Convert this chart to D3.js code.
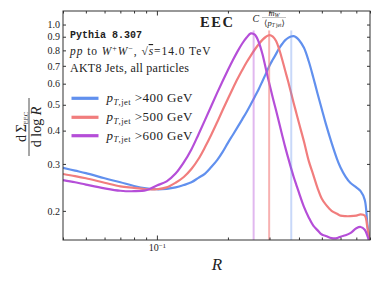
<!DOCTYPE html>
<html><head><meta charset="utf-8">
<script src="https://cdn.jsdelivr.net/npm/d3@7"></script>
<style>
body{margin:0;background:#fff}
svg{display:block}
text{font-family:"Liberation Serif","DejaVu Serif",serif;fill:#222}
</style>
</head><body>
<script>
// ---- data ----
const rValues = [0.04,0.045,0.05,0.06,0.07,0.08,0.09,0.1,0.11,0.12,0.13,0.14,0.15,0.16,0.17,0.18,0.19,0.2,0.21,0.22,0.23,0.24,0.25,0.26,0.27,0.28,0.29,0.3,0.31,0.32,0.33,0.34,0.35,0.36,0.37,0.38,0.39,0.4,0.42,0.44,0.46,0.48,0.5,0.52,0.55,0.58,0.6,0.63,0.66,0.7,0.73,0.76,0.78,0.8];
const eec400 = [0.290,0.283,0.277,0.265,0.256,0.248,0.243,0.241,0.242,0.245,0.250,0.256,0.266,0.276,0.292,0.310,0.333,0.360,0.386,0.413,0.441,0.470,0.502,0.536,0.572,0.613,0.656,0.701,0.739,0.776,0.816,0.847,0.874,0.891,0.902,0.905,0.894,0.875,0.818,0.728,0.633,0.549,0.481,0.424,0.360,0.313,0.291,0.269,0.255,0.245,0.237,0.220,0.178,0.150];
const eec500 = [0.275,0.270,0.265,0.255,0.247,0.244,0.241,0.241,0.245,0.255,0.268,0.287,0.313,0.347,0.386,0.430,0.478,0.527,0.577,0.627,0.675,0.722,0.765,0.806,0.843,0.876,0.900,0.913,0.901,0.867,0.806,0.736,0.669,0.611,0.556,0.507,0.465,0.427,0.364,0.308,0.273,0.243,0.222,0.211,0.200,0.195,0.192,0.191,0.191,0.192,0.194,0.192,0.173,0.150];
const eec600 = [0.261,0.256,0.251,0.243,0.238,0.237,0.239,0.249,0.258,0.276,0.304,0.340,0.387,0.439,0.495,0.554,0.614,0.675,0.736,0.795,0.849,0.894,0.926,0.916,0.860,0.775,0.678,0.597,0.530,0.476,0.426,0.383,0.346,0.316,0.290,0.268,0.250,0.234,0.207,0.189,0.176,0.169,0.163,0.161,0.158,0.158,0.160,0.162,0.165,0.172,0.174,0.170,0.161,0.150];
const ptCuts = ["400","500","600"];
const peakR = [0.371, 0.299, 0.257];       // C m_W / <pT,jet>
const peakLineTop = 0.95;
const yTicks = [0.2,0.3,0.4,0.5,0.6,0.7,0.8,0.9,1.0];
const xMajorTicks = [0.1];
const xMinorTicks = [0.04,0.05,0.06,0.07,0.08,0.09,0.2,0.3,0.4,0.5,0.6,0.7,0.8];
const colors = ["#6190ee","#f17d7d","#b54ed8"];
const vlineOpacity = [0.35,0.6,0.4];

// ---- chart ----
const W=381,H=285;
const L=63,R=370,T=11,B=240;
const svg = d3.select("body").append("svg").attr("width",W).attr("height",H);
const x = d3.scaleLog().domain([0.04,0.8]).range([L,R]);
const y = d3.scaleLog().domain([0.1555,1.124]).range([B,T]);

svg.append("defs").append("clipPath").attr("id","clip")
  .append("rect").attr("x",L).attr("y",T).attr("width",R-L).attr("height",B-T);

const series = [eec400,eec500,eec600];
const line = d3.line().x(d=>x(d[0])).y(d=>y(d[1])).curve(d3.curveCatmullRom.alpha(0.5));
const plot = svg.append("g").attr("clip-path","url(#clip)");
series.forEach((s,i)=>{
  plot.append("path").datum(rValues.map((r,j)=>[r,s[j]]))
    .attr("d",line).attr("fill","none").attr("stroke",colors[i])
    .attr("stroke-width",2.2).attr("stroke-linejoin","round");
});
peakR.forEach((r,i)=>{
  plot.append("line").attr("x1",x(r)).attr("x2",x(r))
    .attr("y1",y(peakLineTop)).attr("y2",B)
    .attr("stroke",colors[i]).attr("stroke-opacity",vlineOpacity[i]).attr("stroke-width",2);
});

// axes (ticks inward)
function styleAxis(g){ g.select(".domain").remove(); g.selectAll(".tick line").attr("stroke","#333"); g.selectAll("text").attr("font-size",10).attr("fill","#222").style("font-family","'Liberation Serif',serif"); }
svg.append("g").attr("transform",`translate(0,${B})`)
  .call(d3.axisBottom(x).tickValues(xMinorTicks).tickSize(-2.5).tickFormat(""))
  .call(styleAxis);
const xb = svg.append("g").attr("transform",`translate(0,${B})`)
  .call(d3.axisBottom(x).tickValues(xMajorTicks).tickSize(-4.5).tickPadding(4).tickFormat(()=>""))
  .call(styleAxis);
xb.selectAll(".tick text").each(function(){
  const t=d3.select(this);
  t.append("tspan").text("10");
  t.append("tspan").attr("dy","-0.45em").attr("font-size",7).text("\u22121");
});
svg.append("g").attr("transform",`translate(0,${T})`)
  .call(d3.axisTop(x).tickValues(xMinorTicks).tickSize(-2.5).tickFormat("")).call(styleAxis);
svg.append("g").attr("transform",`translate(0,${T})`)
  .call(d3.axisTop(x).tickValues(xMajorTicks).tickSize(-4.5).tickFormat("")).call(styleAxis);
svg.append("g").attr("transform",`translate(${L},0)`)
  .call(d3.axisLeft(y).tickValues(yTicks).tickSize(-3).tickPadding(3).tickFormat(d3.format(".1f")))
  .call(styleAxis);
svg.append("g").attr("transform",`translate(${R},0)`)
  .call(d3.axisRight(y).tickValues(yTicks).tickSize(-3).tickFormat(""))
  .call(styleAxis);
svg.append("rect").attr("x",L).attr("y",T).attr("width",R-L).attr("height",B-T)
  .attr("fill","none").attr("stroke","#333").attr("stroke-width",1);

// annotation texts
svg.append("text").attr("x",70).attr("y",38).attr("font-size",10)
  .style("font-family","'Liberation Mono',monospace").attr("font-weight","bold").attr("fill","#222")
  .attr("textLength",72).attr("lengthAdjust","spacing")
  .text("Pythia 8.307");
const t2 = svg.append("text").attr("x",70).attr("y",55).attr("font-size",11.5)
  .attr("textLength",140.5).attr("lengthAdjust","spacing");
t2.append("tspan").attr("font-style","italic").text("pp");
t2.append("tspan").text(" to ");
t2.append("tspan").attr("font-style","italic").text("W");
t2.append("tspan").attr("dy",-4).attr("font-size",8).text("+");
t2.append("tspan").attr("dy",4).attr("font-style","italic").text("W");
t2.append("tspan").attr("dy",-4).attr("font-size",8).text("\u2212");
t2.append("tspan").attr("dy",4).text(", \u221A");
t2.append("tspan").attr("font-style","italic").attr("text-decoration","overline").text("s");
t2.append("tspan").text("=14.0 TeV");
svg.append("text").attr("x",70).attr("y",72).attr("font-size",12)
  .attr("textLength",119).attr("lengthAdjust","spacing").text("AKT8 Jets, all particles");

// legend
const legY = [98.3,117.3,135.7];
ptCuts.forEach((c,i)=>{
  svg.append("line").attr("x1",71.5).attr("x2",98.5).attr("y1",legY[i]).attr("y2",legY[i])
    .attr("stroke",colors[i]).attr("stroke-width",3.2);
  const t = svg.append("text").attr("x",106.5).attr("y",legY[i]+4).attr("font-size",13)
    .attr("textLength",86).attr("lengthAdjust","spacing");
  t.append("tspan").attr("font-style","italic").text("p");
  t.append("tspan").attr("dy",2.5).attr("font-size",8.5).attr("font-style","italic").text("T");
  t.append("tspan").attr("font-size",8.5).text(",jet");
  t.append("tspan").attr("dy",-2.5).text(" >" + c + " GeV");
});

// EEC title
svg.append("text").attr("x",200).attr("y",26.5).attr("font-size",14.5).attr("font-weight","bold")
  .attr("textLength",33).attr("lengthAdjust","spacing").text("EEC");

// C m_W / <pT,jet>
const g = svg.append("g");
g.append("text").attr("x",252.5).attr("y",21.5).attr("font-size",10).attr("font-style","italic").attr("fill","#888").text("C");
g.append("line").attr("x1",262).attr("x2",286).attr("y1",17.5).attr("y2",17.5).attr("stroke","#999").attr("stroke-width",0.6);
const num = g.append("text").attr("x",274).attr("y",15.5).attr("text-anchor","middle").attr("font-size",8.5).attr("fill","#888");
num.append("tspan").attr("font-style","italic").text("m");
num.append("tspan").attr("font-size",6).attr("dy",1.5).attr("font-style","italic").text("W");
const den = g.append("text").attr("x",274.5).attr("y",25.5).attr("text-anchor","middle").attr("font-size",8.5).attr("fill","#888");
den.append("tspan").text("\u27E8");
den.append("tspan").attr("font-style","italic").text("p");
den.append("tspan").attr("font-size",5.5).attr("dy",1.5).attr("font-style","italic").text("T");
den.append("tspan").attr("font-size",5.5).text(" jet");
den.append("tspan").attr("dy",-1.5).text("\u27E9");

// axis labels
svg.append("text").attr("x",217).attr("y",270).attr("text-anchor","middle")
  .attr("font-size",17).attr("font-style","italic").text("R");
const yl = svg.append("g").attr("transform","translate(29,127) rotate(-90)");
yl.append("line").attr("x1",-29).attr("x2",29).attr("y1",0).attr("y2",0).attr("stroke","#222").attr("stroke-width",0.8);
const n = yl.append("text").attr("x",0).attr("y",-3).attr("text-anchor","middle").attr("font-size",14);
n.append("tspan").text("d\u2009\u03A3");
n.append("tspan").attr("font-size",6.5).attr("dy",2).text("EEC");
const dd = yl.append("text").attr("x",0).attr("y",11.5).attr("text-anchor","middle").attr("font-size",14);
dd.append("tspan").text("d log ");
dd.append("tspan").attr("font-style","italic").text("R");
</script>
</body></html>
